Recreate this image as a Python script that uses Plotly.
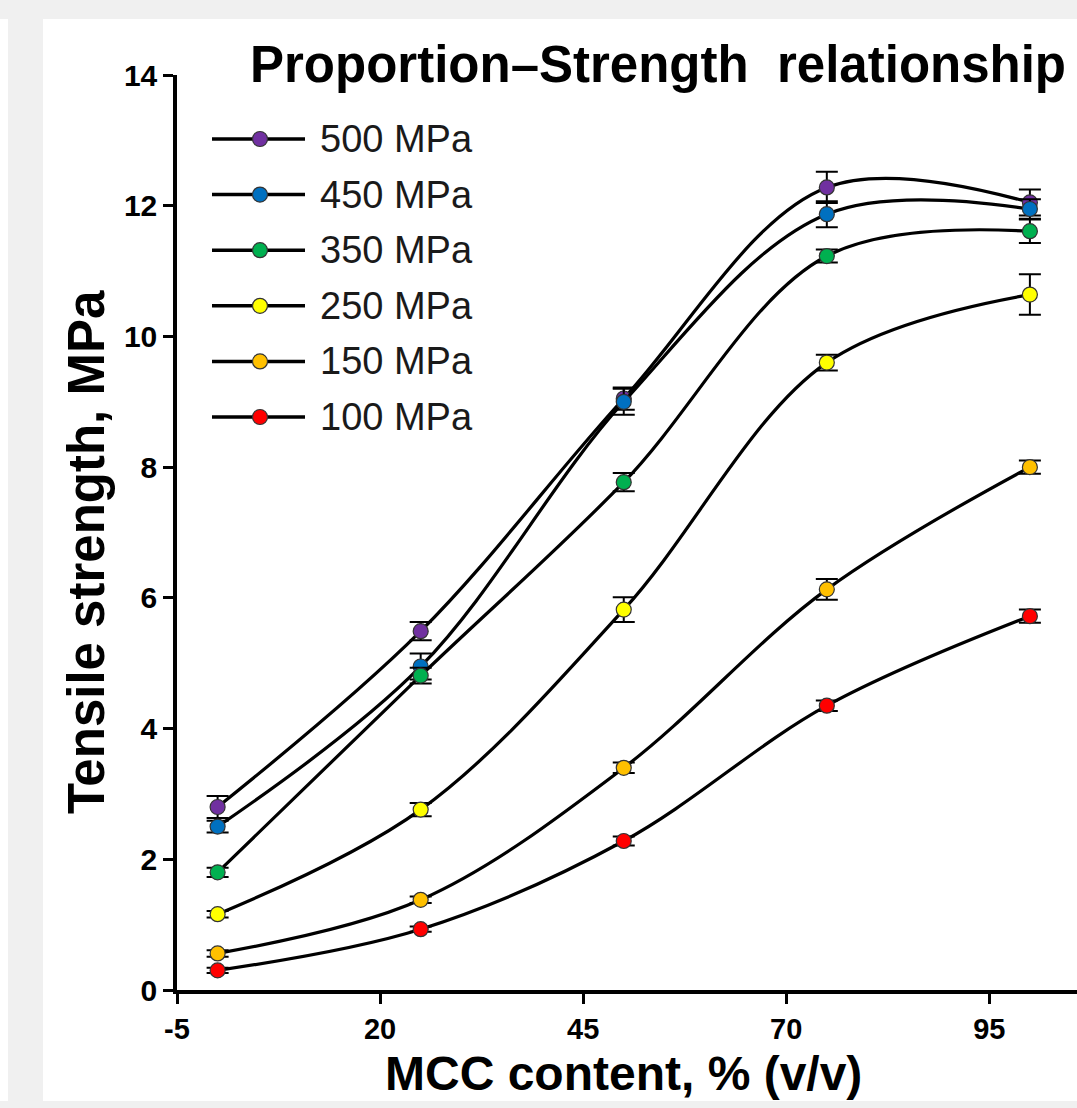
import plotly.graph_objects as go

# ---------------- data ----------------
mcc_content = [0, 25, 50, 75, 100]
series_names = ["500 MPa", "450 MPa", "350 MPa", "250 MPa", "150 MPa", "100 MPa"]
series_colors = ["#7030a0", "#0070c0", "#00b050", "#ffff00", "#ffc000", "#ff0000"]
ts_500 = [2.80, 5.49, 9.05, 12.28, 12.05]
ts_450 = [2.50, 4.95, 9.00, 11.87, 11.95]
ts_350 = [1.80, 4.81, 7.77, 11.23, 11.61]
ts_250 = [1.16, 2.76, 5.82, 9.60, 10.64]
ts_150 = [0.56, 1.38, 3.40, 6.13, 8.00]
ts_100 = [0.30, 0.93, 2.28, 4.35, 5.72]
err_500 = [0.17, 0.14, 0.17, 0.24, 0.20]
err_450 = [0.09, 0.20, 0.20, 0.20, 0.15]
err_350 = [0.07, 0.12, 0.14, 0.10, 0.18]
err_250 = [0.05, 0.10, 0.19, 0.12, 0.31]
err_150 = [0.05, 0.05, 0.08, 0.16, 0.10]
err_100 = [0.04, 0.04, 0.07, 0.08, 0.10]
x_ticks = [-5, 20, 45, 70, 95]
y_ticks = [0, 2, 4, 6, 8, 10, 12, 14]
title_text = "Proportion\u2013Strength \u00a0relationship"
x_title = "MCC content, % (v/v)"
y_title = "Tensile strength, MPa"

values = [ts_500, ts_450, ts_350, ts_250, ts_150, ts_100]
errors = [err_500, err_450, err_350, err_250, err_150, err_100]

# ---------------- layout geometry ----------------
W, H = 1077, 1108
L, R, T, B = 177, 0, 75, 118
PW, PH = W - L - R, H - T - B


def px(xp):
    return (xp - L) / PW


def py(yp):
    return (H - B - yp) / PH


FONT = "Arial, Liberation Sans, Helvetica, sans-serif"

fig = go.Figure()
for name, color, yv, ev in zip(series_names, series_colors, values, errors):
    fig.add_trace(go.Scatter(
        x=mcc_content, y=yv, name=name, mode="lines+markers",
        line=dict(color="black", width=3.2, shape="spline", smoothing=1),
        marker=dict(color=color, size=15, line=dict(color="#333333", width=1.2)),
        error_y=dict(type="data", array=ev, visible=True, color="black",
                     thickness=2, width=11),
        showlegend=False,
    ))

shapes = [
    dict(type="rect", xref="paper", yref="paper", x0=px(43), x1=px(W + 5),
         y0=py(1101), y1=py(19), fillcolor="white", line=dict(width=0), layer="below"),
    dict(type="rect", xref="paper", yref="paper", x0=px(-5), x1=px(8),
         y0=py(1101), y1=py(19), fillcolor="white", line=dict(width=0), layer="below"),
]

annotations = [
    dict(text=title_text, xref="paper", yref="paper", x=px(658), y=py(64),
         xanchor="center", yanchor="middle", showarrow=False,
         font=dict(family=FONT, size=51, color="black", weight="bold")),
    dict(text=x_title, xref="paper", yref="paper", x=px(623), y=py(1073),
         xanchor="center", yanchor="middle", showarrow=False,
         font=dict(family=FONT, size=48, color="black", weight="bold")),
    dict(text=y_title, xref="paper", yref="paper", x=px(86), y=py(552),
         xanchor="center", yanchor="middle", showarrow=False, textangle=-90,
         font=dict(family=FONT, size=51, color="black", weight="bold")),
]

# custom legend (line sample with centred marker + label)
leg_y0, leg_dy = 139, 55.6
for i, (name, color) in enumerate(zip(series_names, series_colors)):
    yy = py(leg_y0 + i * leg_dy)
    shapes.append(dict(type="line", xref="paper", yref="paper", x0=px(212), x1=px(305),
                       y0=yy, y1=yy, line=dict(color="black", width=3.5)))
    shapes.append(dict(type="circle", xref="paper", yref="paper",
                       xsizemode="pixel", ysizemode="pixel",
                       xanchor=px(260), yanchor=yy, x0=-7.5, x1=7.5, y0=-7.5, y1=7.5,
                       fillcolor=color, line=dict(color="#333333", width=1.2)))
    annotations.append(dict(text=name, xref="paper", yref="paper", x=px(318), y=yy,
                            xanchor="left", yanchor="middle", showarrow=False,
                            font=dict(family=FONT, size=38, color="#1a1a1a")))

fig.update_layout(
    width=W, height=H,
    margin=dict(l=L, r=R, t=T, b=B, pad=0),
    paper_bgcolor="#f0f0f0", plot_bgcolor="white",
    shapes=shapes, annotations=annotations,
    xaxis=dict(range=[-5, 105.8], tickmode="array", tickvals=x_ticks,
               ticktext=[str(v) for v in x_ticks],
               showline=True, linewidth=3.5, linecolor="black",
               ticks="outside", ticklen=10, tickwidth=3, tickcolor="black",
               showgrid=False, zeroline=False,
               tickfont=dict(family=FONT, size=29, color="black", weight="bold")),
    yaxis=dict(range=[0, 14], tickmode="array", tickvals=y_ticks,
               ticktext=[str(v) for v in y_ticks],
               showline=True, linewidth=3.5, linecolor="black",
               ticks="outside", ticklen=10, tickwidth=3, tickcolor="black",
               showgrid=False, zeroline=False,
               tickfont=dict(family=FONT, size=30, color="black", weight="bold")),
)

fig.write_html("out.html")
